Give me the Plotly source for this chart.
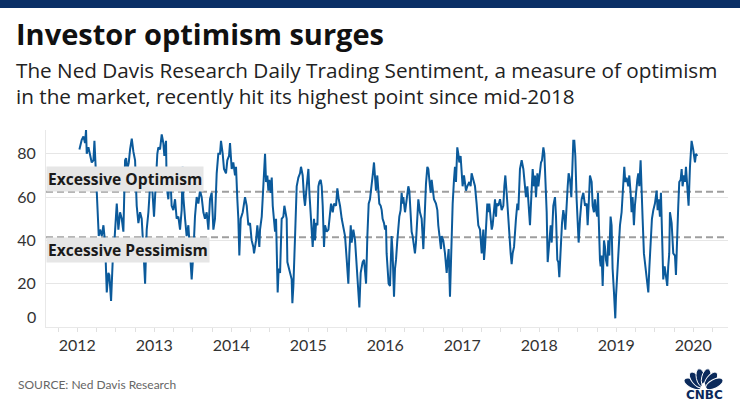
import base64
import math
import plotly.graph_objects as go

# ---------------- data (decimal year, sentiment reading) ----------------
x_2012 = [2012.027, 2012.057, 2012.079, 2012.100, 2012.113, 2012.122, 2012.144, 2012.165, 2012.187, 2012.209,
          2012.222, 2012.239, 2012.261, 2012.278, 2012.295, 2012.317, 2012.339, 2012.352, 2012.369, 2012.382,
          2012.403, 2012.416, 2012.438, 2012.460, 2012.477, 2012.494, 2012.512, 2012.533, 2012.555, 2012.577,
          2012.598, 2012.620, 2012.633, 2012.650, 2012.668, 2012.685, 2012.707, 2012.728, 2012.750, 2012.771,
          2012.793, 2012.815, 2012.836, 2012.858, 2012.880, 2012.901, 2012.923]
y_2012 = [82, 86.5, 88, 85, 91, 80, 83, 80, 76, 77,
          86, 73, 57, 42, 45, 42, 47, 42, 30, 16,
          25, 24, 12, 31, 37, 45, 57, 45, 53, 50,
          44, 77, 78, 73, 76, 82, 87, 81, 77, 56,
          48, 53, 50, 36, 20, 45, 53]

x_2013 = [2012.944, 2012.966, 2012.996, 2013.022, 2013.039, 2013.052, 2013.074, 2013.096, 2013.117, 2013.130,
          2013.152, 2013.160, 2013.182, 2013.204, 2013.225, 2013.247, 2013.269, 2013.290, 2013.312, 2013.334,
          2013.355, 2013.368, 2013.377, 2013.399, 2013.420, 2013.442, 2013.464, 2013.485, 2013.507, 2013.528,
          2013.550, 2013.572, 2013.593, 2013.615, 2013.637, 2013.658, 2013.680, 2013.702, 2013.723, 2013.745,
          2013.767, 2013.788, 2013.810, 2013.831, 2013.853, 2013.866, 2013.888, 2013.905, 2013.931, 2013.948,
          2013.970, 2013.983, 2014.005, 2014.026, 2014.048, 2014.061, 2014.078, 2014.091, 2014.104, 2014.122,
          2014.148, 2014.178, 2014.200, 2014.221, 2014.243, 2014.264, 2014.286, 2014.295, 2014.321, 2014.338,
          2014.364]
y_2013 = [65, 68, 51, 73, 80, 83, 82, 89, 85, 79,
          86, 65, 59, 73, 56, 54, 59, 50, 51, 45,
          54, 74, 60, 50, 42, 47, 31, 22, 34, 51,
          60, 57, 63, 60, 53, 50, 53, 45, 59, 62,
          45, 50, 71, 80, 80, 86, 80, 73, 71, 77,
          79, 85, 73, 76, 70, 74, 59, 50, 33, 50,
          53, 60, 56, 47, 48, 40, 37, 34, 40, 47,
          37]

x_2014 = [2014.373, 2014.395, 2014.408, 2014.425, 2014.438, 2014.451, 2014.468, 2014.481, 2014.494, 2014.512,
          2014.525, 2014.538, 2014.555, 2014.568, 2014.581, 2014.589, 2014.602, 2014.615, 2014.633, 2014.654,
          2014.676, 2014.689, 2014.702, 2014.719, 2014.728, 2014.741, 2014.763, 2014.784, 2014.793, 2014.806,
          2014.828, 2014.849, 2014.871, 2014.892, 2014.905, 2014.927, 2014.944, 2014.957, 2014.979, 2015.001,
          2015.014, 2015.031, 2015.044, 2015.057, 2015.074, 2015.087, 2015.100, 2015.118, 2015.131, 2015.144,
          2015.161, 2015.174, 2015.187, 2015.204, 2015.217, 2015.239, 2015.261, 2015.282, 2015.295, 2015.317,
          2015.334, 2015.360, 2015.377, 2015.395, 2015.412, 2015.434, 2015.455, 2015.477, 2015.499, 2015.520,
          2015.533, 2015.551, 2015.563, 2015.585, 2015.607, 2015.628, 2015.650, 2015.663, 2015.680, 2015.706,
          2015.724, 2015.750, 2015.767, 2015.784]
y_2014 = [45, 51, 60, 70, 80, 67, 70, 63, 68, 62,
          69, 56, 50, 44, 50, 34, 16, 27, 25, 50,
          51, 56, 53, 50, 30, 28, 25, 22, 11, 19,
          42, 65, 69, 71, 74, 70, 60, 56, 65, 73,
          62, 50, 45, 37, 50, 40, 48, 47, 65, 67,
          68, 65, 56, 37, 47, 44, 45, 53, 57, 53,
          57, 56, 64, 59, 56, 50, 45, 42, 31, 20,
          34, 47, 39, 45, 40, 28, 16, 9, 25, 30,
          31, 20, 42, 57]

x_2016 = [2015.801, 2015.823, 2015.836, 2015.853, 2015.866, 2015.879, 2015.896, 2015.909, 2015.922, 2015.940,
          2015.953, 2015.965, 2015.983, 2015.996, 2016.009, 2016.017, 2016.030, 2016.043, 2016.061, 2016.074,
          2016.082, 2016.095, 2016.113, 2016.126, 2016.139, 2016.156, 2016.169, 2016.182, 2016.199, 2016.212,
          2016.225, 2016.234, 2016.256, 2016.269, 2016.286, 2016.299, 2016.312, 2016.329, 2016.342, 2016.355,
          2016.372, 2016.385, 2016.398, 2016.416, 2016.429, 2016.450, 2016.472, 2016.494, 2016.515, 2016.528,
          2016.546, 2016.559, 2016.572, 2016.589, 2016.602, 2016.615, 2016.632, 2016.658, 2016.676, 2016.688,
          2016.710, 2016.723, 2016.732, 2016.753, 2016.775, 2016.788, 2016.797, 2016.810, 2016.823, 2016.840,
          2016.857, 2016.875, 2016.892, 2016.905, 2016.918, 2016.935, 2016.948, 2016.961, 2016.978, 2016.991,
          2017.004, 2017.022, 2017.035, 2017.048, 2017.065, 2017.091, 2017.108, 2017.121, 2017.143, 2017.165,
          2017.186, 2017.208]
y_2016 = [59, 65, 70, 76, 68, 63, 70, 65, 57, 56,
          54, 50, 48, 45, 47, 34, 25, 20, 19, 31,
          42, 34, 14, 27, 31, 40, 47, 51, 54, 62,
          57, 60, 53, 57, 62, 65, 63, 50, 44, 42,
          37, 34, 39, 51, 59, 53, 50, 36, 57, 66,
          74, 73, 68, 62, 68, 65, 59, 57, 54, 47,
          39, 36, 42, 40, 34, 30, 25, 31, 36, 14,
          42, 57, 68, 74, 67, 83, 80, 76, 79, 73,
          65, 70, 67, 63, 65, 67, 65, 71, 68, 65,
          57, 47]

x_2017 = [2017.230, 2017.252, 2017.273, 2017.282, 2017.295, 2017.308, 2017.325, 2017.338, 2017.351, 2017.369,
          2017.382, 2017.394, 2017.412, 2017.425, 2017.438, 2017.446, 2017.468, 2017.490, 2017.511, 2017.533,
          2017.546, 2017.559, 2017.576, 2017.598, 2017.611, 2017.628, 2017.641, 2017.654, 2017.672, 2017.685,
          2017.697, 2017.715, 2017.728, 2017.749, 2017.771, 2017.793, 2017.814, 2017.827, 2017.845, 2017.858,
          2017.879, 2017.892, 2017.905, 2017.914, 2017.931, 2017.944, 2017.957, 2017.975, 2017.988, 2018.009,
          2018.022, 2018.035, 2018.053, 2018.066, 2018.078, 2018.096, 2018.109, 2018.130, 2018.148, 2018.161,
          2018.182, 2018.204, 2018.217, 2018.234, 2018.247, 2018.260, 2018.278, 2018.295, 2018.312, 2018.325,
          2018.338, 2018.356, 2018.369, 2018.381, 2018.399, 2018.416, 2018.433, 2018.442, 2018.455, 2018.468,
          2018.485, 2018.498, 2018.511, 2018.529, 2018.550, 2018.572, 2018.594, 2018.615, 2018.628, 2018.641]
y_2017 = [45, 34, 45, 31, 37, 45, 57, 53, 57, 50,
          45, 47, 53, 59, 51, 57, 56, 59, 54, 56,
          65, 70, 62, 50, 39, 34, 29, 34, 37, 45,
          50, 57, 54, 73, 77, 73, 65, 60, 65, 56,
          47, 57, 65, 73, 65, 70, 60, 71, 65, 73,
          76, 77, 83, 80, 71, 53, 30, 42, 47, 39,
          56, 60, 51, 31, 30, 23, 40, 48, 54, 51,
          45, 60, 65, 71, 68, 60, 83, 86, 86, 79,
          59, 45, 39, 50, 59, 62, 56, 57, 47, 56]

x_2019 = [2018.658, 2018.680, 2018.693, 2018.710, 2018.723, 2018.736, 2018.753, 2018.762, 2018.779, 2018.788,
          2018.797, 2018.810, 2018.823, 2018.840, 2018.853, 2018.866, 2018.883, 2018.896, 2018.909, 2018.926,
          2018.939, 2018.952, 2018.970, 2018.987, 2018.996, 2019.013, 2019.030, 2019.048, 2019.069, 2019.091,
          2019.104, 2019.117, 2019.134, 2019.156, 2019.169, 2019.186, 2019.199, 2019.212, 2019.229, 2019.242,
          2019.255, 2019.273, 2019.286, 2019.299, 2019.316, 2019.329, 2019.342, 2019.359, 2019.372, 2019.394,
          2019.416, 2019.429, 2019.446, 2019.463, 2019.481, 2019.502, 2019.524, 2019.537, 2019.550, 2019.567,
          2019.580, 2019.593, 2019.610, 2019.628, 2019.645, 2019.662, 2019.675, 2019.688, 2019.697, 2019.719,
          2019.740, 2019.762, 2019.775, 2019.792, 2019.805, 2019.818, 2019.836, 2019.849, 2019.861, 2019.879,
          2019.892, 2019.905, 2019.922, 2019.939, 2019.957, 2019.978, 2019.999, 2020.022, 2020.035, 2020.052]
y_2019 = [70, 67, 56, 53, 59, 54, 51, 62, 37, 31,
          28, 33, 19, 40, 37, 31, 28, 40, 33, 51,
          47, 27, 16, 4, 14, 25, 40, 47, 53, 65,
          74, 67, 69, 65, 70, 62, 53, 60, 47, 56,
          62, 68, 71, 65, 77, 57, 50, 34, 30, 25,
          16, 27, 39, 50, 54, 57, 63, 54, 59, 51,
          62, 45, 22, 28, 22, 19, 28, 34, 53, 48,
          34, 33, 24, 50, 56, 67, 68, 73, 65, 70,
          67, 74, 62, 56, 74, 86, 82, 76, 80, 79]

dates = x_2012 + x_2013 + x_2014 + x_2016 + x_2017 + x_2019
sentiment = y_2012 + y_2013 + y_2014 + y_2016 + y_2017 + y_2019

year_ticks = [2012, 2013, 2014, 2015, 2016, 2017, 2018, 2019, 2020]
year_labels = ["2012", "2013", "2014", "2015", "2016", "2017", "2018", "2019", "2020"]
y_ticks = [20, 40, 60, 80]
y_labels = ["20", "40", "60", "80"]
optimism_level = 62.5
pessimism_level = 41.5

# ---------------- layout helpers ----------------
W, H = 740, 416
L, R, T, B = 46, 728, 130, 327
def px(x):
    return (x - L) / (R - L)
def py(y):
    return (B - y) / (B - T)

NAVY = "#0a2f66"
LINE = "#0b5a9b"
FONT = "Lato"
HEAD = "Open Sans"

fig = go.Figure()
fig.add_trace(go.Scatter(x=dates, y=sentiment, mode="lines",
                         line=dict(color=LINE, width=2), hoverinfo="skip", showlegend=False))

shapes = [
    dict(type="line", xref="paper", x0=0, x1=1, yref="y", y0=optimism_level, y1=optimism_level,
         line=dict(color="#9e9e9e", width=2, dash="7px,4px"), layer="below"),
    dict(type="line", xref="paper", x0=0, x1=1, yref="y", y0=pessimism_level, y1=pessimism_level,
         line=dict(color="#9e9e9e", width=2, dash="7px,4px"), layer="below"),
    dict(type="rect", xref="paper", yref="paper", x0=px(0), x1=px(W), y0=py(8), y1=py(0),
         fillcolor=NAVY, line=dict(width=0)),
]

annotations = [
    dict(text="<b>Investor optimism surges</b>", xref="paper", yref="paper", x=px(14), y=py(33),
         xanchor="left", yanchor="middle", showarrow=False, font=dict(family=HEAD, size=29, color="#111")),
    dict(text="The Ned Davis Research Daily Trading Sentiment, a measure of optimism", xref="paper", yref="paper",
         x=px(14), y=py(70), xanchor="left", yanchor="middle", showarrow=False,
         font=dict(family=HEAD, size=20.7, color="#222")),
    dict(text="in the market, recently hit its highest point since mid-2018", xref="paper", yref="paper",
         x=px(14), y=py(95.5), xanchor="left", yanchor="middle", showarrow=False,
         font=dict(family=HEAD, size=20.7, color="#222")),
    dict(text="<b>Excessive Optimism</b>", xref="paper", x=0, yref="y", y=optimism_level,
         xanchor="left", yanchor="bottom", showarrow=False, bgcolor="#e6e6e6", borderpad=1,
         font=dict(family=HEAD, size=15.6, color="#1a1a1a")),
    dict(text="<b>Excessive Pessimism</b>", xref="paper", x=0, yref="y", y=pessimism_level,
         xanchor="left", yanchor="top", showarrow=False, bgcolor="#e6e6e6", borderpad=1,
         font=dict(family=HEAD, size=15.6, color="#1a1a1a")),
    dict(text="0", xref="paper", yref="paper", x=px(38), y=py(316), xanchor="right", yanchor="middle",
         showarrow=False, font=dict(family=FONT, size=16, color="#333")),
    dict(text="SOURCE: Ned Davis Research", xref="paper", yref="paper", x=px(16), y=py(384),
         xanchor="left", yanchor="middle", showarrow=False, font=dict(family=FONT, size=12, color="#666")),
    dict(text="<b>CNBC</b>", xref="paper", yref="paper", x=px(704), y=py(395),
         xanchor="center", yanchor="middle", showarrow=False,
         font=dict(family="DejaVu Sans", size=12, color="#0b2a5b")),
]

# CNBC peacock drawn as an inline SVG
feathers = []
for a in [-62, -37, -12.5, 12.5, 37, 62]:
    r = math.radians(a)
    cx = 20 + 12.0 * math.sin(r)
    cy = 25.5 - 12.0 * math.cos(r)
    feathers.append(f'<ellipse cx="{cx:.2f}" cy="{cy:.2f}" rx="4.4" ry="9.2" '
                    f'transform="rotate({a} {cx:.2f} {cy:.2f})" fill="#0b2a5b" stroke="#fff" stroke-width="0.9"/>')
svg = ('<svg xmlns="http://www.w3.org/2000/svg" viewBox="0 0 40 26">' + "".join(feathers) +
       '<ellipse cx="20" cy="24.5" rx="2.3" ry="6" fill="#fff"/></svg>')
logo_src = "data:image/svg+xml;base64," + base64.b64encode(svg.encode()).decode()

fig.update_layout(
    width=W, height=H, margin=dict(l=L, r=W - R, t=T, b=H - B, pad=0),
    paper_bgcolor="white", plot_bgcolor="white",
    font=dict(family=FONT, color="#333"),
    shapes=shapes, annotations=annotations,
    images=[dict(source=logo_src, xref="paper", yref="paper", x=px(683), y=py(364),
                 sizex=(724 - 683) / (R - L), sizey=(390 - 364) / (B - T),
                 xanchor="left", yanchor="top", sizing="stretch", layer="above")],
    xaxis=dict(range=[2011.593, 2020.451], tickvals=year_ticks, ticktext=year_labels,
               showgrid=False, zeroline=False, showline=True, linecolor="#e8e8e8", linewidth=1,
               ticks="outside", ticklen=4, tickcolor="#e0e0e0",
               minor=dict(dtick=0.25, tick0=2012, ticks="outside", ticklen=4, tickcolor="#e0e0e0", showgrid=False),
               tickfont=dict(family=FONT, size=16, color="#333")),
    yaxis=dict(range=[0, 91], tickvals=y_ticks, ticktext=y_labels, showgrid=True, gridcolor="#e6e6e6",
               gridwidth=1, zeroline=False, showline=True, linecolor="#e8e8e8", linewidth=1,
               ticks="outside", ticklen=6, tickcolor="rgba(0,0,0,0)",
               tickfont=dict(family=FONT, size=16, color="#333")),
)

fig.write_html("out.html")
